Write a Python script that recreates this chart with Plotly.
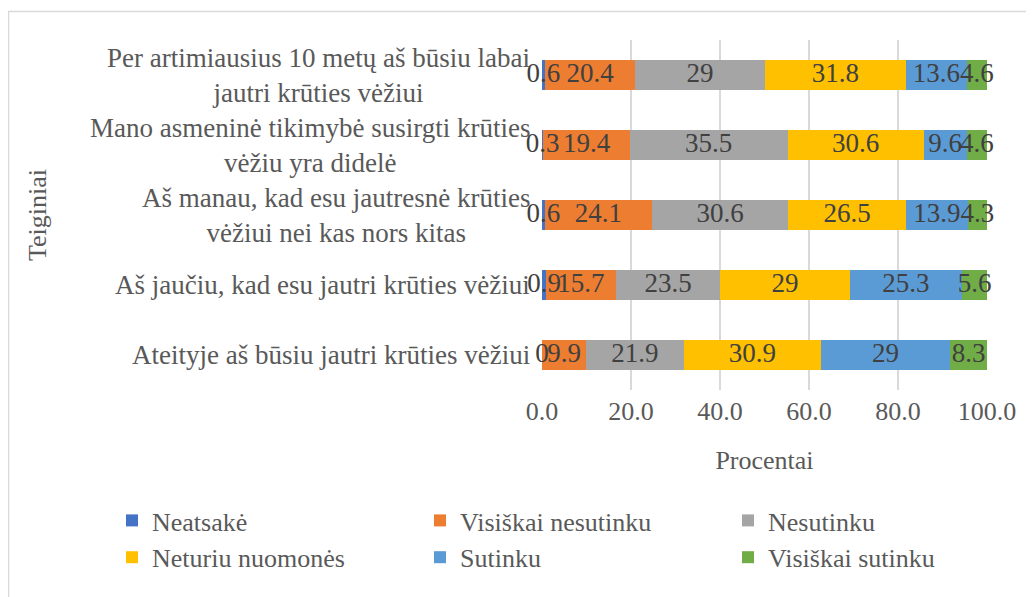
import plotly.graph_objects as go

# ---- data ----
categories = [
    "Per artimiausius 10 metų aš būsiu labai<br>jautri krūties vėžiui",
    "Mano asmeninė tikimybė susirgti krūties<br>vėžiu yra didelė",
    "Aš manau, kad esu jautresnė krūties<br>vėžiui nei kas nors kitas",
    "Aš jaučiu, kad esu jautri krūties vėžiui",
    "Ateityje aš būsiu jautri krūties vėžiui",
]
series_names = ["Neatsakė", "Visiškai nesutinku", "Nesutinku",
                "Neturiu nuomonės", "Sutinku", "Visiškai sutinku"]
neatsake = [0.6, 0.3, 0.6, 0.9, 0]
visiskai_nesutinku = [20.4, 19.4, 24.1, 15.7, 9.9]
nesutinku = [29, 35.5, 30.6, 23.5, 21.9]
neturiu_nuomones = [31.8, 30.6, 26.5, 29, 30.9]
sutinku = [13.6, 9.6, 13.9, 25.3, 29]
visiskai_sutinku = [4.6, 4.6, 4.3, 5.6, 8.3]
x_tick_values = [0, 20, 40, 60, 80, 100]
x_tick_labels = ["0.0", "20.0", "40.0", "60.0", "80.0", "100.0"]
x_title = "Procentai"
y_title = "Teiginiai"

series_values = [neatsake, visiskai_nesutinku, nesutinku,
                 neturiu_nuomones, sutinku, visiskai_sutinku]
colors = ["#4472C4", "#ED7D31", "#A5A5A5", "#FFC000", "#5B9BD5", "#70AD47"]

FONT = "Liberation Serif"
TXT = "#595959"
# the page adds an 8px body margin, so the figure is 8px smaller
W, H = 1026, 589
ML, MR, MT, MB = 534, 47, 32, 207
plot_w = W - ML - MR
plot_h = H - MT - MB

fig = go.Figure()
for name, vals, col in zip(series_names, series_values, colors):
    fig.add_trace(go.Bar(
        y=categories, x=vals, name=name, orientation="h",
        marker=dict(color=col, line=dict(width=0)),
        hoverinfo="x+name",
    ))

# data labels centred on each segment
cum = [0.0] * len(categories)
for vals in series_values:
    mids = [c + v / 2 for c, v in zip(cum, vals)]
    fig.add_trace(go.Scatter(
        y=categories, x=mids, mode="text",
        text=[f"{v:g}" for v in vals],
        textposition="middle center",
        textfont=dict(family=FONT, size=27, color="#404040"),
        showlegend=False, hoverinfo="skip", cliponaxis=False,
    ))
    cum = [c + v for c, v in zip(cum, vals)]

# category labels (centred multi-line text, as in the original)
for cat in categories:
    fig.add_annotation(
        x=0, xref="paper", y=cat, yref="y", xanchor="right", yanchor="middle",
        xshift=-10, text=cat, showarrow=False, align="center",
        font=dict(family=FONT, size=27, color=TXT),
    )

fig.add_annotation(
    x=0, xref="paper", y=0.5, yref="paper", xshift=29 - ML,
    xanchor="center", yanchor="middle", text=y_title, textangle=-90,
    showarrow=False, font=dict(family=FONT, size=26, color=TXT),
)

fig.add_shape(
    type="rect", xref="paper", yref="paper",
    x0=(0.5 - ML) / plot_w, x1=(W + 10 - ML) / plot_w,
    y0=(plot_h - (H + 10 - MT)) / plot_h, y1=(plot_h - (3.5 - MT)) / plot_h,
    line=dict(color="#D9D9D9", width=1.5), fillcolor="rgba(0,0,0,0)",
    layer="below",
)

legend_left = 104
legend_top = 489
fig.update_layout(
    width=W, height=H,
    margin=dict(l=ML, r=MR, t=MT, b=MB, autoexpand=False),
    paper_bgcolor="white", plot_bgcolor="white",
    barmode="stack", bargap=0.58,
    font=dict(family=FONT, size=26, color=TXT),
    xaxis=dict(
        range=[0, 100], tickvals=x_tick_values, ticktext=x_tick_labels,
        showgrid=True, gridcolor="#D9D9D9", gridwidth=2,
        zeroline=False, showline=False, ticks="", ticklabelstandoff=3,
        tickfont=dict(family=FONT, size=26, color=TXT),
        title=dict(text=x_title, standoff=25,
                   font=dict(family=FONT, size=26, color=TXT)),
        fixedrange=True,
    ),
    yaxis=dict(
        autorange="reversed", showticklabels=False, showgrid=False,
        zeroline=False, showline=False, ticks="", fixedrange=True,
    ),
    legend=dict(
        orientation="h", xref="paper", yref="paper",
        x=(legend_left - ML) / plot_w, y=(plot_h - (legend_top - MT)) / plot_h,
        xanchor="left", yanchor="top",
        entrywidth=263, entrywidthmode="pixels", traceorder="normal",
        font=dict(family=FONT, size=26, color=TXT),
        bgcolor="rgba(0,0,0,0)",
    ),
    showlegend=True,
)

fig.write_html("out.html")
